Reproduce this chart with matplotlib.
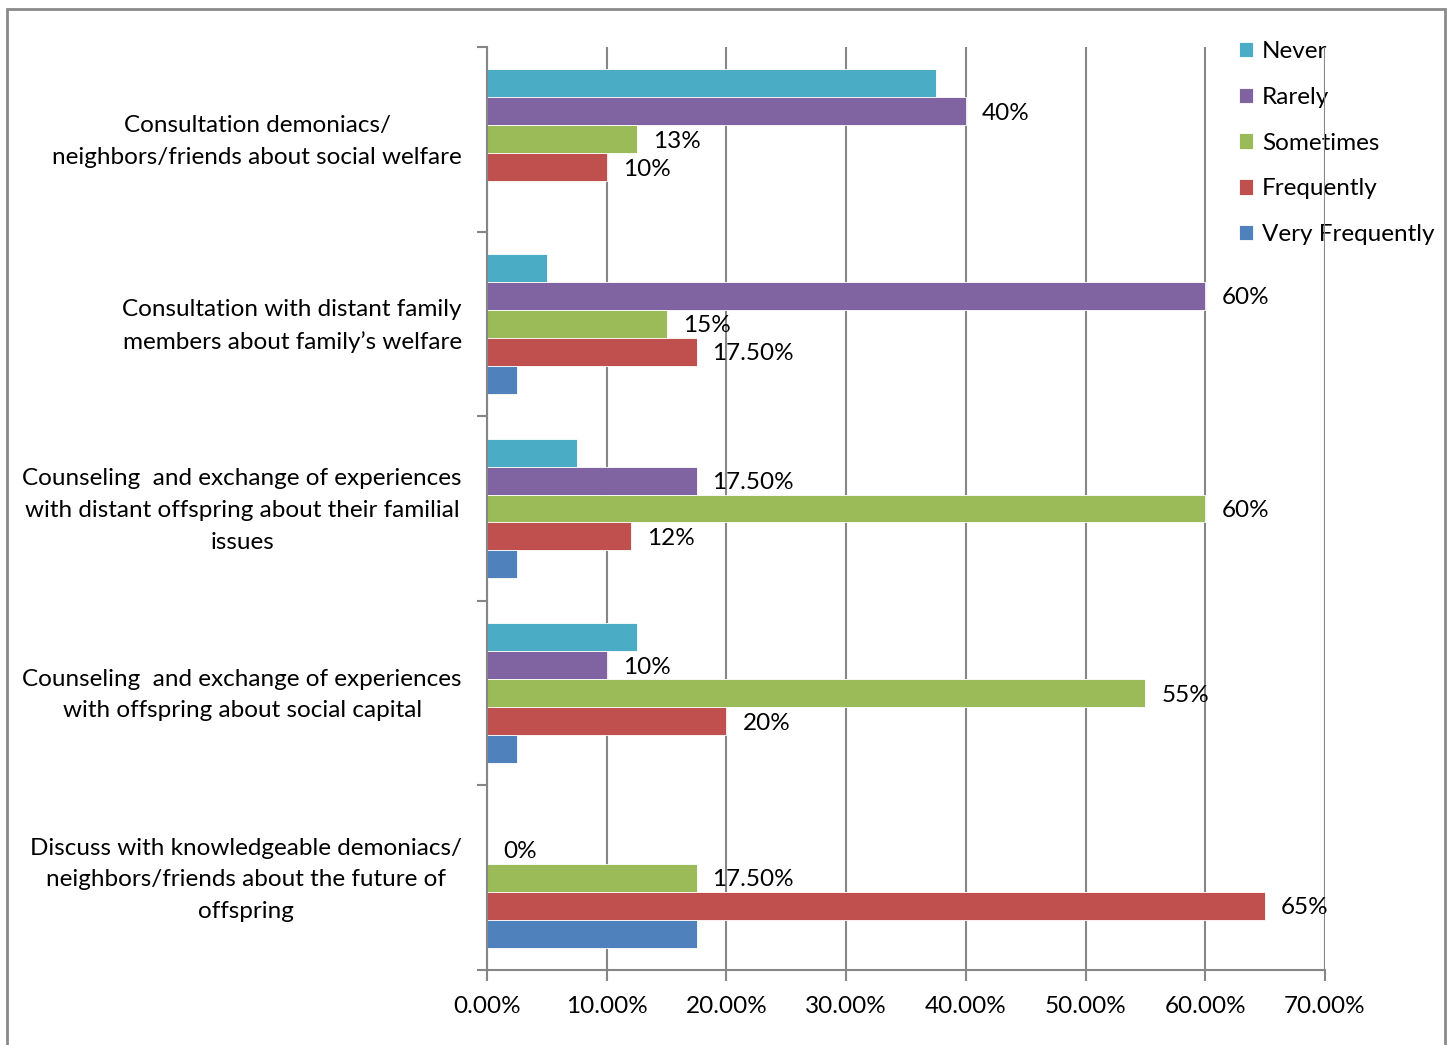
import matplotlib
matplotlib.use("Agg")
import matplotlib.pyplot as plt
import numpy as np
from matplotlib.patches import Rectangle
from matplotlib.ticker import FuncFormatter

plt.rcParams['font.family'] = ['Lato', 'DejaVu Sans']

categories = [
    "Consultation demoniacs/\nneighbors/friends about social welfare",
    "Consultation with distant family\nmembers about family\u2019s welfare",
    "Counseling  and exchange of experiences\nwith distant offspring about their familial\nissues",
    "Counseling  and exchange of experiences\nwith offspring about social capital",
    "Discuss with knowledgeable demoniacs/\nneighbors/friends about the future of\noffspring",
]
series = ["Never", "Rarely", "Sometimes", "Frequently", "Very Frequently"]
colors = ["#4BACC6", "#8064A2", "#9BBB59", "#C0504D", "#4F81BD"]

never = [0.375, 0.05, 0.075, 0.125, 0.0]
rarely = [0.40, 0.60, 0.175, 0.10, 0.0]
sometimes = [0.125, 0.15, 0.60, 0.55, 0.175]
frequently = [0.10, 0.175, 0.12, 0.20, 0.65]
very_frequently = [0.0, 0.025, 0.025, 0.025, 0.175]

rarely_labels = ["40%", "60%", "17.50%", "10%", "0%"]
sometimes_labels = ["13%", "15%", "60%", "55%", "17.50%"]
frequently_labels = ["10%", "17.50%", "12%", "20%", "65%"]

values = [never, rarely, sometimes, frequently, very_frequently]
labels = [None, rarely_labels, sometimes_labels, frequently_labels, None]

W, H = 1453, 1045
fig = plt.figure(figsize=(W / 100, H / 100), dpi=100)
ax = fig.add_axes([487 / W, 75 / H, (1325 - 487) / W, (970 - 47) / H])

fs = 17.5
h = 28 / 185
y = np.arange(len(categories))
for i, (name, vals, col, labs) in enumerate(zip(series, values, colors, labels)):
    pos = y + (i - 2) * h
    ax.barh(pos, vals, height=h, color=col, edgecolor='white', linewidth=0.6,
            label=name, zorder=2)
    if labs is not None:
        for p, v, t in zip(pos, vals, labs):
            ax.annotate(t, xy=(v, p), xytext=(16, -2), textcoords='offset pixels',
                        ha='left', va='center', fontsize=fs, color='black', zorder=3)

ax.set_xlim(0, 0.70)
ax.set_ylim(4.5, -0.5)
ax.set_xticks(np.arange(0, 0.71, 0.1))
ax.xaxis.set_major_formatter(FuncFormatter(lambda v, p: f"{v*100:.2f}%"))
ax.set_yticks(np.arange(-0.5, 4.6, 1.0))
ax.set_yticklabels([])

# category labels
for yi, cat in zip(y, categories):
    ax.annotate(cat, xy=(0, yi), xycoords=('axes fraction', 'data'),
                xytext=(-25, -2), textcoords='offset pixels',
                ha='right', va='center', multialignment='center',
                fontsize=fs, linespacing=1.62, color='black', annotation_clip=False)

gray = '#868686'
ax.tick_params(axis='y', which='major', direction='out', length=7, width=1.5, color=gray)
ax.tick_params(axis='x', which='major', direction='out', length=8, width=1.5, color=gray,
               labelsize=fs, pad=11)

ax.set_axisbelow(True)
ax.grid(axis='x', color=gray, linewidth=1.5, zorder=0.5)
for s in ['top', 'right']:
    ax.spines[s].set_visible(False)
for s in ['left', 'bottom']:
    ax.spines[s].set_color(gray)
    ax.spines[s].set_linewidth(1.5)

leg = ax.legend(loc='upper left', bbox_to_anchor=((1229 - 487) / (1325 - 487), 1.017),
                frameon=False, fontsize=fs, handlelength=0.6, handleheight=0.6,
                handletextpad=0.35, labelspacing=1.02, borderaxespad=0)
leg.set_zorder(0.2)

fig.patches.append(Rectangle((7 / W, -0.05), (1445 - 7) / W, 1.05 - 9 / H,
                             transform=fig.transFigure, fill=False,
                             edgecolor='#8a8a8a', linewidth=2))

fig.savefig("out.png", dpi=100)
